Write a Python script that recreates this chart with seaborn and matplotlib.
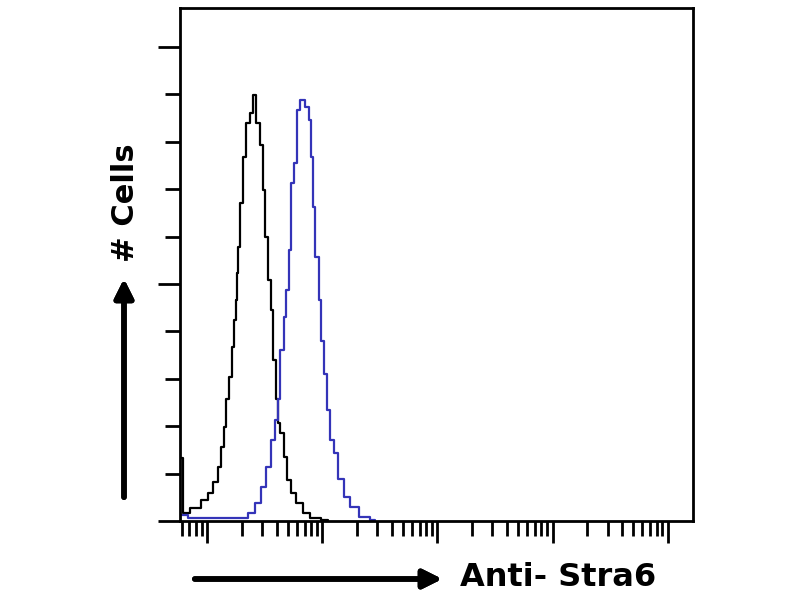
import numpy as np
import pandas as pd
import seaborn as sns
import matplotlib.pyplot as plt
from matplotlib.ticker import LogLocator, MultipleLocator, NullFormatter

# histogram traces (fluorescence intensity, cell count units)
ctrl_x = [5.75, 5.85, 6.1, 6.25, 6.4, 7.9, 9.6, 10.6, 11.7, 13.0, 13.5, 14.3, 14.9, 15.8,
          16.8, 17.5, 18.0, 18.2, 18.6, 20.2, 21.0, 22.7, 24.6, 25.6, 27.2, 30.1, 30.7,
          32.6, 35.3, 36.8, 37.5, 39.0, 40.6, 41.4, 44.9, 47.6, 50.6, 55.9, 61.8, 74.1,
          83.5, 113.0]
ctrl_y = [0.0, 1.33, 1.33, 0.17, 0.17, 0.27, 0.44, 0.59, 0.82, 1.14, 1.56, 1.98, 2.57, 3.04,
          3.67, 4.24, 4.66, 5.23, 5.78, 6.71, 7.68, 8.40, 8.61, 8.99, 8.40, 7.93, 6.98,
          5.99, 5.08, 4.45, 3.40, 3.40, 2.57, 2.07, 1.85, 1.35, 0.86, 0.59, 0.38, 0.17,
          0.06, 0.02]

stra6_x = [5.8, 7.9, 14.3, 20.2, 24.6, 27.8, 30.7, 33.9, 37.5, 40.6, 41.4, 44.9, 47.6,
           49.6, 52.6, 54.8, 58.2, 61.8, 66.9, 74.1, 78.6, 81.9, 83.5, 90.3, 95.9, 100.0,
           106.0, 113.0, 122.0, 129.0, 143.0, 165.0, 186.0, 227.0, 288.0]
stra6_y = [0.12, 0.06, 0.06, 0.06, 0.17, 0.38, 0.72, 1.14, 1.71, 2.13, 2.57, 3.61, 4.30,
           4.87, 5.72, 7.13, 7.55, 8.67, 8.88, 8.74, 8.46, 7.68, 6.62, 5.57, 4.66, 3.80,
           3.11, 2.34, 1.71, 1.44, 0.89, 0.51, 0.30, 0.08, 0.02]

sns.set_style("ticks")
plt.rcParams['font.family'] = ['DejaVu Sans']

fig = plt.figure(figsize=(8, 6), dpi=100)
ax = fig.add_axes([0.225, 0.1317, 0.641, 0.855])

sns.lineplot(x=ctrl_x, y=ctrl_y, ax=ax, color='black', lw=1.6,
             estimator=None, sort=False, drawstyle='steps-mid')
sns.lineplot(x=stra6_x, y=stra6_y, ax=ax, color='#3434b8', lw=1.6,
             estimator=None, sort=False, drawstyle='steps-mid')

ax.set_xscale('log')
ax.set_xlim(5.8, 1.65e5)
ax.set_ylim(0, 10.82)

ax.xaxis.set_major_locator(LogLocator(base=10, numticks=10))
ax.xaxis.set_minor_locator(LogLocator(base=10, subs=np.arange(2, 10), numticks=20))
ax.xaxis.set_major_formatter(NullFormatter())
ax.xaxis.set_minor_formatter(NullFormatter())
ax.yaxis.set_major_locator(MultipleLocator(5))
ax.yaxis.set_minor_locator(MultipleLocator(1))
ax.yaxis.set_major_formatter(NullFormatter())

ax.tick_params(which='major', direction='out', length=16, width=2, color='black')
ax.tick_params(which='minor', direction='out', length=11, width=2, color='black')
for s in ax.spines.values():
    s.set_visible(True)
    s.set_linewidth(2)
    s.set_color('black')
ax.set_xlabel('')
ax.set_ylabel('')

# axis captions with arrows
fig.add_artist(plt.annotate('', xy=(445 / 800, 1 - 579 / 600), xytext=(192 / 800, 1 - 579 / 600),
                            xycoords='figure fraction', textcoords='figure fraction',
                            arrowprops=dict(arrowstyle='-|>', lw=4, color='black',
                                            mutation_scale=28)))
fig.add_artist(plt.annotate('', xy=(124 / 800, 1 - 276 / 600), xytext=(124 / 800, 1 - 500 / 600),
                            xycoords='figure fraction', textcoords='figure fraction',
                            arrowprops=dict(arrowstyle='-|>', lw=4, color='black',
                                            mutation_scale=28)))
fig.text(460 / 800, 1 - 578 / 600, 'Anti- Stra6', fontsize=23, fontweight='bold',
         color='black', ha='left', va='center')
fig.text(126 / 800, 1 - 203 / 600, '# Cells', fontsize=22, fontweight='bold',
         color='black', rotation=90, ha='center', va='center')

fig.savefig('out.png', dpi=100, facecolor='white')
